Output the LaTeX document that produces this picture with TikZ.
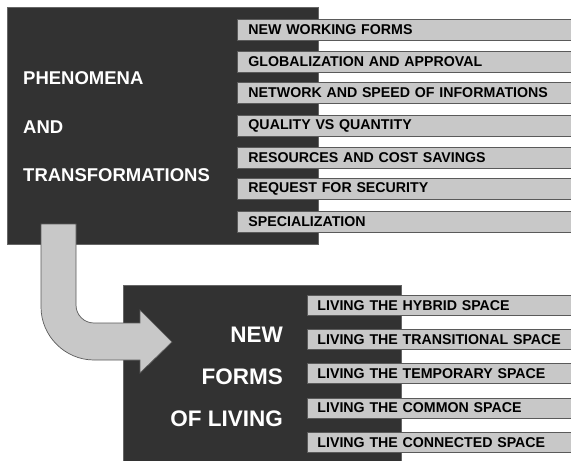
\documentclass[tikz,border=0pt]{standalone}
\usepackage{fontspec}
\setmainfont{Liberation Sans}
\usepackage{tikz}
\usetikzlibrary{positioning}

\definecolor{panel}{HTML}{323232}
\definecolor{barfill}{HTML}{C8C8C8}
\definecolor{barline}{HTML}{5A5A5A}

\tikzset{
  panelbox/.style={fill=panel, draw=black!60, line width=0.6pt},
  title/.style={text=white, font=\fontsize{18.5}{20}\selectfont\bfseries, inner sep=0pt},
  bigtitle/.style={title, font=\fontsize{22.5}{24}\selectfont\bfseries},
  bar/.style={fill=barfill, draw=barline, line width=0.9pt, anchor=west,
    text width=320pt, inner xsep=11pt, inner ysep=0pt, align=left,
    font=\fontsize{14.2}{15}\selectfont\bfseries},
  toprow/.style={bar, minimum height=21pt},
  lowrow/.style={bar, minimum height=20pt, inner xsep=10pt},
  turnarrow/.style={fill=barfill, draw=barline, line width=0.7pt}
}

\begin{document}
\begin{tikzpicture}[x=1pt, y=-1pt]
        \useasboundingbox (0,0) rectangle (571,461);
        \clip (0,0) rectangle (571,461);
        \fill[white] (0,0) rectangle (571,461);

        % upper panel
        \draw[panelbox] (7,7) rectangle (318,244);
        \node[title, anchor=west] (phen) at (23,78) {PHENOMENA};
        \node[title, anchor=west] (and) at (23,127) {AND};
        \node[title, anchor=west] (trans) at (23,175) {TRANSFORMATIONS};

        \node[toprow] (work) at (237,29.5) {NEW WORKING FORMS};
        \node[toprow] (glob) at (237,61.5) {GLOBALIZATION AND APPROVAL};
        \node[toprow] (net) at (237,93) {NETWORK AND SPEED OF INFORMATIONS};
        \node[toprow] (qual) at (237,125.5) {QUALITY VS QUANTITY};
        \node[toprow] (res) at (237,157.5) {RESOURCES AND COST SAVINGS};
        \node[toprow] (sec) at (237,189) {REQUEST FOR SECURITY};
        \node[toprow] (spec) at (237,222) {SPECIALIZATION};

        % lower panel
        \draw[panelbox] (123,285) rectangle (401,470);
        \node[bigtitle, anchor=east] (new) at (283,335) {NEW};
        \node[bigtitle, anchor=east] (forms) at (283,377) {FORMS};
        \node[bigtitle, anchor=east] (ofliv) at (283,419) {OF LIVING};

        \node[lowrow] (hyb) at (307,305.5) {LIVING THE HYBRID SPACE};
        \node[lowrow] (tra) at (307,339.5) {LIVING THE TRANSITIONAL SPACE};
        \node[lowrow] (tem) at (307,373.5) {LIVING THE TEMPORARY SPACE};
        \node[lowrow] (com) at (307,408) {LIVING THE COMMON SPACE};
        \node[lowrow] (con) at (307,442.5) {LIVING THE CONNECTED SPACE};

        % bent arrow
        \draw[turnarrow] (76,224) -- (76,305)
          .. controls (76,315) and (84,323) .. (94,323)
          -- (140,323) -- (140,310) -- (172,342) -- (140,373) -- (140,360)
          -- (94,360) .. controls (65,360) and (41,336) .. (41,307)
          -- (41,224) -- cycle;
    \end{tikzpicture}
\end{document}
